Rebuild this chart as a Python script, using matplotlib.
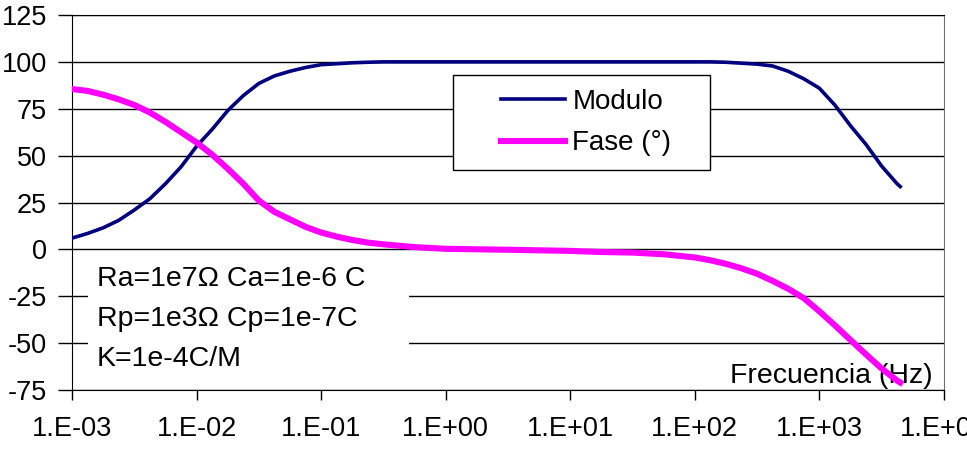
import matplotlib
matplotlib.use("Agg")
import matplotlib.pyplot as plt
from matplotlib.patches import Rectangle
import numpy as np

plt.rcParams['font.family'] = ['Liberation Sans', 'DejaVu Sans']
plt.rcParams['axes.unicode_minus'] = False

# values (log10 of frequency in Hz)
log_f = [-3, -2.875, -2.75, -2.625, -2.5, -2.375, -2.25, -2.125, -2, -1.875,
         -1.75, -1.625, -1.5, -1.375, -1.25, -1.125, -1, -0.875, -0.75, -0.625,
         -0.5, -0.25, 0, 0.5, 1, 1.25, 1.5, 1.75, 2, 2.125,
         2.25, 2.375, 2.5, 2.625, 2.75, 2.875, 3, 3.125, 3.25, 3.375,
         3.5, 3.625, 3.65]
modulo = [6, 8.5, 11.5, 15.5, 21, 27, 35, 44, 55, 64,
          74, 82, 88.5, 92.5, 95, 97, 98.5, 99, 99.5, 99.8,
          100, 100, 100, 100, 100, 100, 100, 100, 100, 100,
          99.8, 99.3, 98.8, 97.8, 95, 91, 86, 77, 66, 56,
          44.5, 35, 33.5]
fase = [85.5, 84.5, 82.5, 80, 77, 73, 68, 62.5, 57, 50.5,
        43, 35, 26, 20, 16, 12, 9, 6.8, 5, 3.6,
        2.7, 1.2, 0.3, -0.2, -0.8, -1.4, -1.7, -2.6, -4.3, -5.8,
        -7.7, -10.1, -13, -16.8, -21, -26, -33, -40.5, -48.3, -56,
        -63.5, -70, -71]

x_exps = [-3, -2, -1, 0, 1, 2, 3, 4]
x_labels = ['1.E%+03d' % e for e in x_exps]
y_ticks = [-75, -50, -25, 0, 25, 50, 75, 100, 125]
params = ['Ra=1e7\u03a9 Ca=1e-6 C', 'Rp=1e3\u03a9 Cp=1e-7C', 'K=1e-4C/M']

freq = 10.0 ** np.array(log_f)

fig = plt.figure(figsize=(9.67, 4.5), dpi=100)
ax = fig.add_axes([0.0745, 0.1333, 0.9015, 0.8334])

ax.plot(freq, modulo, color='#000080', lw=2.6, label='Modulo', zorder=3)
ax.plot(freq, fase, color='#ff00ff', lw=4.4, label='Fase (\u00b0)', zorder=3)

ax.set_xscale('log')
ax.set_xlim(1e-3, 1e4)
ax.set_ylim(-75, 125)
ax.set_xticks([10.0 ** e for e in x_exps])
ax.set_xticklabels(x_labels)
ax.minorticks_off()
ax.set_yticks(y_ticks)
ax.grid(axis='y', color='black', lw=1)
ax.tick_params(axis='y', labelsize=19.5, length=10, width=1, pad=8, direction='out')
ax.tick_params(axis='x', labelsize=19.5, length=7, width=1, pad=12, direction='out')
for s in ['left', 'bottom', 'top']:
    ax.spines[s].set_color('black')
ax.spines['right'].set_color('#707070')

# legend frame
ax.add_patch(Rectangle((0.437, 0.587), 0.295, 0.253, transform=ax.transAxes,
                       facecolor='white', edgecolor='black', lw=1, zorder=4))
ax.legend(loc='center', bbox_to_anchor=(0.590, 0.713), frameon=False,
          fontsize=20, handlelength=2.3, handletextpad=0.25, labelspacing=0.55).set_zorder(5)

# parameter box
ax.add_patch(Rectangle((0.018, 0.005), 0.369, 0.347, transform=ax.transAxes,
                       facecolor='white', edgecolor='none', zorder=1.8))
for txt, yy in zip(params, [0.277, 0.171, 0.064]):
    ax.text(0.0287, yy, txt, transform=ax.transAxes, fontsize=20.5,
            ha='left', va='baseline', zorder=4)

ax.text(0.987, 0.019, 'Frecuencia (Hz)', transform=ax.transAxes, fontsize=20.5,
        ha='right', va='baseline', zorder=2.5)

fig.savefig('out.png', dpi=100)
